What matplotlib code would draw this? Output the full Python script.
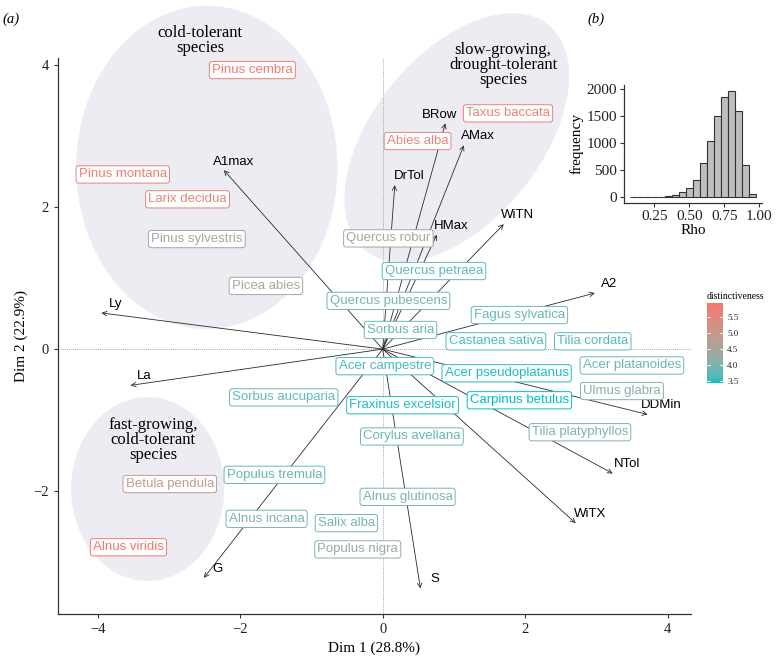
import numpy as np
import matplotlib
matplotlib.use("Agg")
import matplotlib.pyplot as plt
from matplotlib.patches import Ellipse
from matplotlib.colors import ListedColormap

# ---------------- data ----------------
species = ["Pinus cembra", "Pinus montana", "Larix decidua", "Pinus sylvestris", "Picea abies",
           "Taxus baccata", "Abies alba", "Quercus robur", "Quercus petraea", "Quercus pubescens",
           "Sorbus aria", "Fagus sylvatica", "Castanea sativa", "Tilia cordata", "Acer campestre",
           "Acer pseudoplatanus", "Acer platanoides", "Ulmus glabra", "Carpinus betulus",
           "Fraxinus excelsior", "Sorbus aucuparia", "Corylus avellana", "Tilia platyphyllos",
           "Populus tremula", "Betula pendula", "Alnus glutinosa", "Alnus incana", "Salix alba",
           "Populus nigra", "Alnus viridis"]
sp_x = [-1.83, -3.65, -2.74, -2.61, -1.64, 1.76, 0.49, 0.08, 0.72, 0.08,
        0.25, 1.92, 1.59, 2.95, 0.03, 1.74, 3.50, 3.36, 1.92, 0.28,
        -1.39, 0.41, 2.77, -1.52, -2.99, 0.35, -1.63, -0.51, -0.35, -3.57]
sp_y = [3.93, 2.46, 2.11, 1.55, 0.89, 3.32, 2.93, 1.56, 1.10, 0.68,
        0.27, 0.48, 0.11, 0.11, -0.24, -0.34, -0.23, -0.59, -0.72, -0.79,
        -0.68, -1.23, -1.17, -1.77, -1.90, -2.08, -2.39, -2.45, -2.82, -2.79]
distinct = [5.80, 5.75, 5.40, 4.35, 4.50, 5.65, 5.50, 4.50, 3.75, 3.95,
            3.85, 3.80, 3.65, 3.70, 3.60, 3.45, 3.80, 4.10, 3.42, 3.45,
            3.80, 3.80, 4.00, 3.80, 4.85, 4.00, 4.00, 3.90, 4.20, 5.94]

var_names = ["Ly", "La", "G", "S", "WiTX", "NTol", "DDMin", "A2", "WiTN", "HMax",
             "AMax", "BRow", "DrTol", "A1max"]
var_x = [-3.95, -3.54, -2.51, 0.53, 2.71, 3.23, 3.72, 2.98, 1.70, 0.76, 1.14, 0.88, 0.17, -2.23]
var_y = [0.51, -0.51, -3.22, -3.37, -2.45, -1.75, -0.92, 0.79, 1.76, 1.61, 2.87, 3.18, 2.31, 2.52]

rho_bins = [0.10, 0.15, 0.20, 0.25, 0.30, 0.35, 0.40, 0.45, 0.50, 0.55,
            0.60, 0.65, 0.70, 0.75, 0.80, 0.85, 0.90, 0.95]
rho_counts = [3, 2, 2, 10, 12, 24, 42, 91, 182, 321,
              636, 1036, 1497, 1861, 1976, 1594, 606, 55]

group_text = ["cold-tolerant\nspecies", "slow-growing,\ndrought-tolerant\nspecies",
              "fast-growing,\ncold-tolerant\nspecies"]
group_cx = [-2.47, 1.04, -3.30]
group_cy = [2.56, 2.98, -1.97]
group_w = [3.67, 4.09, 2.15]
group_h = [4.55, 2.35, 2.59]
group_ang = [0, 51, 0]
group_tx = [-2.56, 1.69, -3.22]
group_ty = [4.35, 4.00, -1.28]

# ---------------- colour scale (Lab interpolation like ggplot) ----------------
def _hex2rgb(h):
    h = h.lstrip("#")
    return np.array([int(h[i:i + 2], 16) / 255 for i in (0, 2, 4)])

M = np.array([[0.4124, 0.3576, 0.1805], [0.2126, 0.7152, 0.0722], [0.0193, 0.1192, 0.9505]])
WP = np.array([0.95047, 1.0, 1.08883])

def rgb2lab(c):
    lin = np.where(c <= 0.04045, c / 12.92, ((c + 0.055) / 1.055) ** 2.4)
    xyz = M @ lin / WP
    f = np.where(xyz > 0.008856, np.cbrt(xyz), 7.787 * xyz + 16 / 116)
    return np.array([116 * f[1] - 16, 500 * (f[0] - f[1]), 200 * (f[1] - f[2])])

def lab2rgb(lab):
    L, a, b = lab
    fy = (L + 16) / 116
    fx = fy + a / 500
    fz = fy - b / 200
    f = np.array([fx, fy, fz])
    xyz = np.where(f ** 3 > 0.008856, f ** 3, (f - 16 / 116) / 7.787) * WP
    lin = np.linalg.solve(M, xyz)
    lin = np.clip(lin, 0, 1)
    c = np.where(lin <= 0.0031308, 12.92 * lin, 1.055 * lin ** (1 / 2.4) - 0.055)
    return np.clip(c, 0, 1)

LOW, HIGH = rgb2lab(_hex2rgb("#00BFC4")), rgb2lab(_hex2rgb("#F8766D"))
vmin, vmax = min(distinct), max(distinct)
cmap = ListedColormap([lab2rgb(LOW + (HIGH - LOW) * t) for t in np.linspace(0, 1, 256)])

def col(v):
    return cmap((v - vmin) / (vmax - vmin))

SERIF = "Liberation Serif"
SANS = "Liberation Sans"

# ---------------- figure ----------------
fig = plt.figure(figsize=(7.76, 6.56), dpi=100)
ax = fig.add_axes([0.0747, 0.064, 0.8158, 0.8476])
ax.set_xlim(-4.56, 4.33)
ax.set_ylim(-3.73, 4.10)

for cx, cy, w, h, a in zip(group_cx, group_cy, group_w, group_h, group_ang):
    ax.add_patch(Ellipse((cx, cy), w, h, angle=a, fc="#ECECF2", ec="none", zorder=0, clip_on=False))
for t, tx, ty in zip(group_text, group_tx, group_ty):
    ax.text(tx, ty, t, ha="center", va="center", fontsize=12, family=SERIF,
            linespacing=0.95, zorder=1, clip_on=False)

ax.axhline(0, color="#8a8a8a", lw=0.6, ls=(0, (1, 1.5)), zorder=1)
ax.axvline(0, color="#8a8a8a", lw=0.6, ls=(0, (1, 1.5)), zorder=1)

label_off = {"BRow": (-4.3, 5.8), "A1max": (7.2, 5.8)}
for n, x, y in zip(var_names, var_x, var_y):
    ax.annotate("", xy=(x, y), xytext=(0, 0),
                arrowprops=dict(arrowstyle="->", color="#2b2b2b", lw=0.6,
                                shrinkA=0, shrinkB=0, mutation_scale=8), zorder=2)
    dx, dy = label_off.get(n, (10.1, 6.5))
    ax.annotate(n, xy=(x, y), xytext=(dx, dy), textcoords="offset points",
                ha="center", va="center", fontsize=9.5, family=SANS, color="black", zorder=3)

for n, x, y, d in zip(species, sp_x, sp_y, distinct):
    c = col(d)
    ax.text(x, y, n, ha="center", va="center", fontsize=9.5, family=SANS, color=c, zorder=4,
            bbox=dict(boxstyle="round,pad=0.2,rounding_size=0.2", fc="white", ec=c, lw=0.7))

for s in ["top", "right"]:
    ax.spines[s].set_visible(False)
for s in ["left", "bottom"]:
    ax.spines[s].set_color("#333333")
    ax.spines[s].set_linewidth(0.9)
ax.set_xticks([-4, -2, 0, 2, 4])
ax.set_yticks([-2, 0, 2, 4])
ax.set_xticklabels(["\u22124", "\u22122", "0", "2", "4"])
ax.set_yticklabels(["\u22122", "0", "2", "4"])
ax.tick_params(colors="#333333", labelcolor="#222222", labelsize=10.5, length=3, width=0.8)
for lab in ax.get_xticklabels() + ax.get_yticklabels():
    lab.set_family(SERIF)
ax.set_xlabel("Dim 1 (28.8%)", family=SERIF, fontsize=11, labelpad=4)
ax.set_ylabel("Dim 2 (22.9%)", family=SERIF, fontsize=11, labelpad=4)

fig.text(0.003, 0.970, "(a)", family=SERIF, style="italic", fontsize=10.5, va="center")
fig.text(0.757, 0.970, "(b)", family=SERIF, style="italic", fontsize=10.5, va="center")

# ---------------- colour bar ----------------
cax = fig.add_axes([0.911, 0.416, 0.0206, 0.122])
grad = np.linspace(vmin, vmax, 256).reshape(-1, 1)
cax.imshow(grad, aspect="auto", cmap=cmap, origin="lower", extent=[0, 1, vmin, vmax])
cax.set_xlim(0, 1)
cax.set_ylim(vmin, vmax)
cax.set_xticks([])
for s in cax.spines.values():
    s.set_visible(False)
cb_ticks = [3.5, 4.0, 4.5, 5.0, 5.5]
cax.yaxis.tick_right()
cax.set_yticks(cb_ticks)
cax.set_yticklabels([f"{v:.1f}" for v in cb_ticks], family=SERIF, fontsize=6.5)
cax.tick_params(axis="y", length=0, pad=3, labelcolor="#222222")
for v in cb_ticks:
    cax.plot([0, 0.2], [v, v], color="white", lw=0.6)
    cax.plot([0.8, 1], [v, v], color="white", lw=0.6)
cax.set_title("distinctiveness", family=SERIF, fontsize=7, pad=3, loc="left")

# ---------------- inset histogram ----------------
hax = fig.add_axes([0.804, 0.691, 0.178, 0.179])
hax.bar(rho_bins, rho_counts, width=0.05, color="#BEBEBE", edgecolor="#333333", lw=0.8)
hax.set_xlim(0.034, 1.019)
hax.set_ylim(-99, 2075)
hax.set_xticks([0.25, 0.5, 0.75, 1.0])
hax.set_xticklabels(["0.25", "0.50", "0.75", "1.00"])
hax.set_yticks([0, 500, 1000, 1500, 2000])
for s in ["top", "right"]:
    hax.spines[s].set_visible(False)
for s in ["left", "bottom"]:
    hax.spines[s].set_color("#333333")
    hax.spines[s].set_linewidth(0.9)
hax.tick_params(colors="#333333", labelcolor="#222222", labelsize=11, length=3, width=0.8, pad=2)
for lab in hax.get_xticklabels() + hax.get_yticklabels():
    lab.set_family(SERIF)
hax.set_xlabel("Rho", family=SERIF, fontsize=11, labelpad=1)
hax.set_ylabel("frequency", family=SERIF, fontsize=11, labelpad=2)

fig.savefig("out.png", dpi=100, facecolor="white")
